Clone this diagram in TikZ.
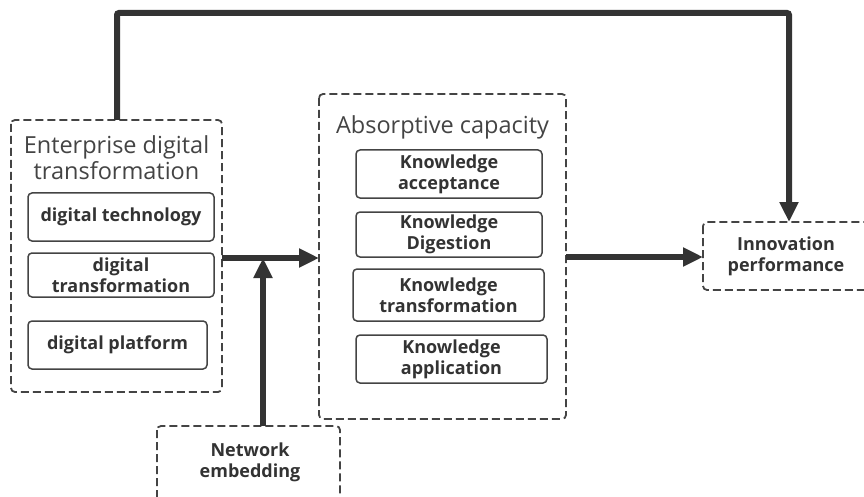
\documentclass[tikz,border=0pt]{standalone}
\usepackage{fontspec}
\setmainfont{Open Sans}
\usetikzlibrary{arrows.meta}
\definecolor{ink}{HTML}{333333}
\definecolor{frame}{HTML}{444444}
\tikzset{
  group/.style={draw=frame, line width=1.8pt, dash pattern=on 8pt off 4pt, rounded corners=4pt},
  item/.style={draw=frame, line width=1.5pt, rounded corners=4pt, align=center,
    font=\fontsize{18}{21}\selectfont\bfseries, text=ink, inner sep=0pt},
  grouptitle/.style={font=\fontsize{23.5}{26}\selectfont, text=frame, align=center, inner sep=0pt},
  flow/.style={draw=ink, line width=6pt, -{Triangle[length=20pt,width=18pt]}},
}
\begin{document}
\begin{tikzpicture}[x=1pt,y=-1pt]
\useasboundingbox (0,0) rectangle (864,497);
\begin{scope}
\clip (0,0) rectangle (864,497);
% outer groups
\draw[group] (11,120) rectangle (222,392);
\node[grouptitle] (edtT) at (116.5,158) {Enterprise digital\\transformation};
\node[item, minimum width=186pt, minimum height=48pt] (dt) at (121,217) {digital technology};
\node[item, minimum width=186pt, minimum height=44pt] (dtf) at (121,275) {digital\\transformation};
\node[item, minimum width=179pt, minimum height=48pt] (dp) at (117.5,345) {digital platform};

\draw[group] (319,94) rectangle (566,419);
\node[grouptitle] (acT) at (442.5,127) {Absorptive capacity};
\node[item, minimum width=186pt, minimum height=48pt] (ka) at (449,174) {Knowledge\\acceptance};
\node[item, minimum width=186pt, minimum height=45pt] (kd) at (449,234.5) {Knowledge\\Digestion};
\node[item, minimum width=191pt, minimum height=52pt] (kt) at (448.5,295) {Knowledge\\transformation};
\node[item, minimum width=191pt, minimum height=48pt] (kap) at (451.5,359) {Knowledge\\application};

\draw[group] (703,222) rectangle (880,290);
\node[item, draw=none] (ip) at (786,256) {Innovation\\performance};

\draw[group] (157,426) rectangle (340,510);
\node[item, draw=none] (ne) at (250,462) {Network\\embedding};

% connectors
\coordinate (edtTop) at (117,120);
\coordinate (c1) at (117,13);
\coordinate (c2) at (789,13);
\coordinate (ipTop) at (789,222);
\draw[flow, rounded corners=2pt] (edtTop) -- (c1) -- (c2) -- (ipTop);

\coordinate (edtR) at (222,258);
\coordinate (acL) at (319,258);
\draw[flow] (edtR) -- (acL);

\coordinate (neTop) at (263,426);
\coordinate (join) at (263,258);
\draw[flow] (neTop) -- (join);

\coordinate (acR) at (566,257);
\coordinate (ipL) at (703,257);
\draw[flow] (acR) -- (ipL);
\end{scope}
\end{tikzpicture}
\end{document}
